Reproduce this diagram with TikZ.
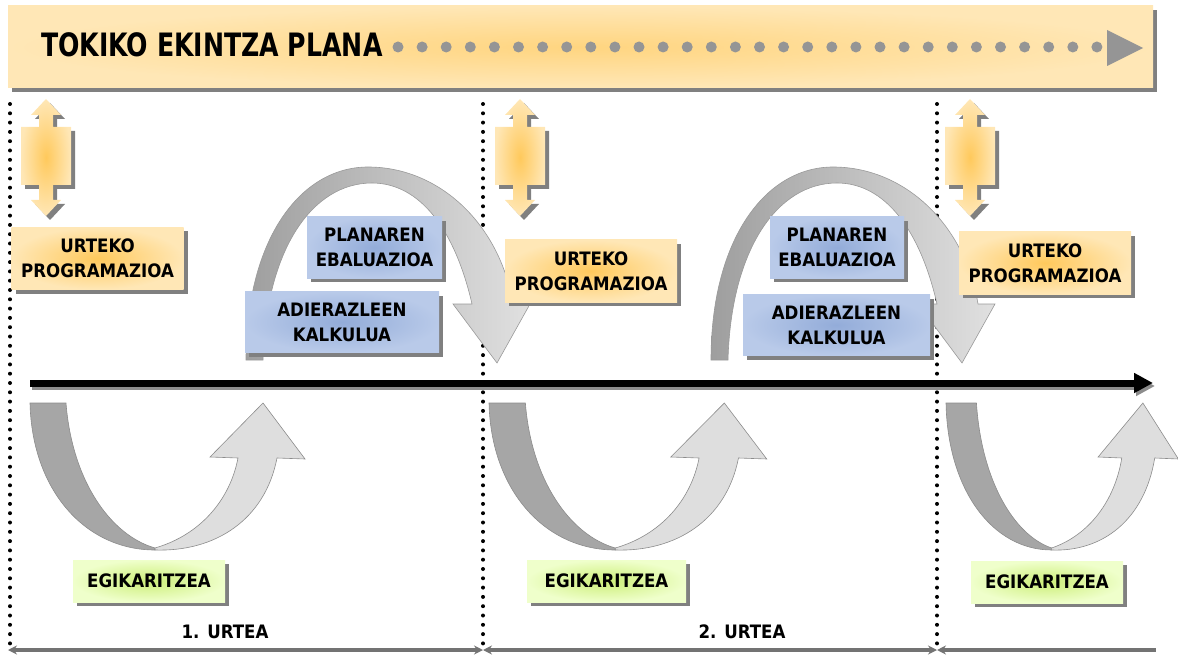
\documentclass[tikz,border=0pt]{standalone}
\usepackage{fontspec}
\setsansfont{DejaVu Sans Condensed}
\usetikzlibrary{arrows.meta, shadows, positioning}

\definecolor{orangeIn}{HTML}{FFC95C}
\definecolor{orangeOut}{HTML}{FFE7B6}
\definecolor{blueIn}{HTML}{93ACD9}
\definecolor{blueOut}{HTML}{B9CAE9}
\definecolor{greenIn}{HTML}{CCEE78}
\definecolor{greenOut}{HTML}{EFFFCB}
\definecolor{dotgray}{HTML}{959595}

\newcommand\boxfont{\fontsize{18.5}{25}\selectfont\sffamily\bfseries}
\newcommand\planfont{\fontsize{28}{30}\selectfont\sffamily\bfseries}

\begin{document}
\begin{tikzpicture}[
            x=1pt, y=-1pt,
            shadowed/.style={
                drop shadow={shadow xshift=4pt, shadow yshift=-4pt, fill=black!50, opacity=1}
            },
            progbox/.style={shadowed, inner color=orangeIn, outer color=orangeOut,
                minimum width=172pt, minimum height=62pt, align=center, font=\boxfont, inner sep=0pt},
            evalbox/.style={shadowed, inner color=blueIn, outer color=blueOut,
                minimum height=61pt, align=center, font=\boxfont, inner sep=0pt},
            execbox/.style={shadowed, inner color=greenIn, outer color=greenOut,
                minimum width=152pt, minimum height=42pt, font=\boxfont, inner sep=0pt},
            yearlabel/.style={font=\boxfont, inner sep=0pt},
            dotline/.style={line width=4pt, line cap=round, dash pattern=on 0pt off 9.3pt},
            yearline/.style={draw=black!55, line width=3.5pt},
            mainarrow/.style={line width=7pt, -{Triangle[length=19pt,width=19pt]}},
            updown/.style={shadowed, inner color=orangeIn, outer color=orangeOut},
            archarrow/.style={left color=black!38, right color=black!12, draw=black!40, line width=0.6pt},
            darkhalf/.style={fill=black!35, draw=black!45, line width=0.6pt},
            lighthalf/.style={fill=black!13, draw=black!45, line width=0.6pt}
        ]
        \useasboundingbox (0,0) rectangle (1178,655);

        % plan banner
        \path[shadowed, inner color=orangeIn!60!orangeOut, outer color=orangeOut] (8,6) rectangle (1153,88);
        \node[anchor=west, font=\planfont, inner sep=0pt] (plan) at (41,45) {\scalebox{1}[1.15]{TOKIKO EKINTZA PLANA}};
        \foreach \i in {0,...,29}
            \fill[dotgray] (398+24.1*\i,47) circle (5.5);
        \fill[dotgray] (1107,30) -- (1143,48) -- (1107,66) -- cycle;

        % year borders
        \foreach \n/\xx in {1/10, 2/483, 3/937} {
            \coordinate (top\n) at (\xx,104);
            \coordinate (bot\n) at (\xx,647);
            \draw[dotline] (top\n) -- (bot\n);
        }

        \foreach \cx in {46,520,970}
            \path[updown, shift={(\cx,0)}] (0,99) -- (15,115) -- (7,115) -- (7,127) -- (25,127) -- (25,185)
                -- (7,185) -- (7,200) -- (15,200) -- (0,216) -- (-15,200) -- (-7,200) -- (-7,185)
                -- (-25,185) -- (-25,127) -- (-7,127) -- (-7,115) -- (-15,115) -- cycle;

        \coordinate (yl0) at (8,650);
        \coordinate (yl1) at (483,650);
        \coordinate (yl2) at (937,650);
        \coordinate (yl3) at (1156,650);
        \draw[yearline, arrows={Stealth[length=9pt,width=9pt]-Stealth[length=9pt,width=9pt]}] (yl0) -- (yl1);
        \draw[yearline, arrows={Stealth[length=9pt,width=9pt]-Stealth[length=9pt,width=9pt]}] (yl1) -- (yl2);
        \draw[yearline, arrows={Stealth[length=9pt,width=9pt]-}] (yl2) -- (yl3);
        \node[yearlabel] (year1) at (225,632) {1. URTEA};
        \node[yearlabel] (year2) at (742,632) {2. URTEA};

        % evaluation arches
        \foreach \dx in {0,465} {
            \begin{scope}[shift={(\dx,0)}]
                \path[archarrow] (246,360) .. controls (246,240) and (300,167) .. (368,167)
                    .. controls (440,167) and (500,225) .. (513,304) -- (530,304) -- (497,363) -- (453,304) -- (472,304)
                    .. controls (455,230) and (420,183) .. (372,183)
                    .. controls (312,183) and (266,250) .. (263,360) -- cycle;
            \end{scope}
        }

        % execution arrows
        \foreach \xbase/\s in {30/1, 489/1.01, 946/0.845} {
            \begin{scope}[shift={(\xbase,0)}, xscale=\s]
                \path[darkhalf] (0,403) -- (36,403) .. controls (42,480) and (80,535) .. (125,548)
                    -- (125,550) .. controls (55,550) and (2,490) .. (0,403) -- cycle;
                \path[lighthalf] (125,548) .. controls (170,535) and (200,500) .. (208,458) -- (180,457)
                    -- (233,403) -- (275,459) -- (247,458) .. controls (235,520) and (185,552) .. (125,550) -- cycle;
            \end{scope}
        }

        \coordinate (axisL) at (30,383);
        \coordinate (axisR) at (1153,383);
        \draw[mainarrow, black!45, transform canvas={shift={(2,3)}}] (axisL) -- (axisR);
        \draw[mainarrow] (axisL) -- (axisR);

        \node[progbox] (prog1) at (97.5,258.5) {URTEKO\\PROGRAMAZIOA};
        \node[progbox] (prog2) at (591,271) {URTEKO\\PROGRAMAZIOA};
        \node[progbox] (prog3) at (1045,263) {URTEKO\\PROGRAMAZIOA};

        \node[evalbox, minimum width=135pt] (eval1) at (374.5,247.5) {PLANAREN\\EBALUAZIOA};
        \node[evalbox, minimum width=194pt] (calc1) at (342,322) {ADIERAZLEEN\\KALKULUA};
        \node[evalbox, minimum width=134pt] (eval2) at (837,247.5) {PLANAREN\\EBALUAZIOA};
        \node[evalbox, minimum width=187pt] (calc2) at (836.5,325) {ADIERAZLEEN\\KALKULUA};

        \node[execbox] (exec1) at (149,581) {EGIKARITZEA};
        \node[execbox, minimum width=159pt] (exec2) at (606.5,581) {EGIKARITZEA};
        \node[execbox] (exec3) at (1047,582) {EGIKARITZEA};
    \end{tikzpicture}
\end{document}
